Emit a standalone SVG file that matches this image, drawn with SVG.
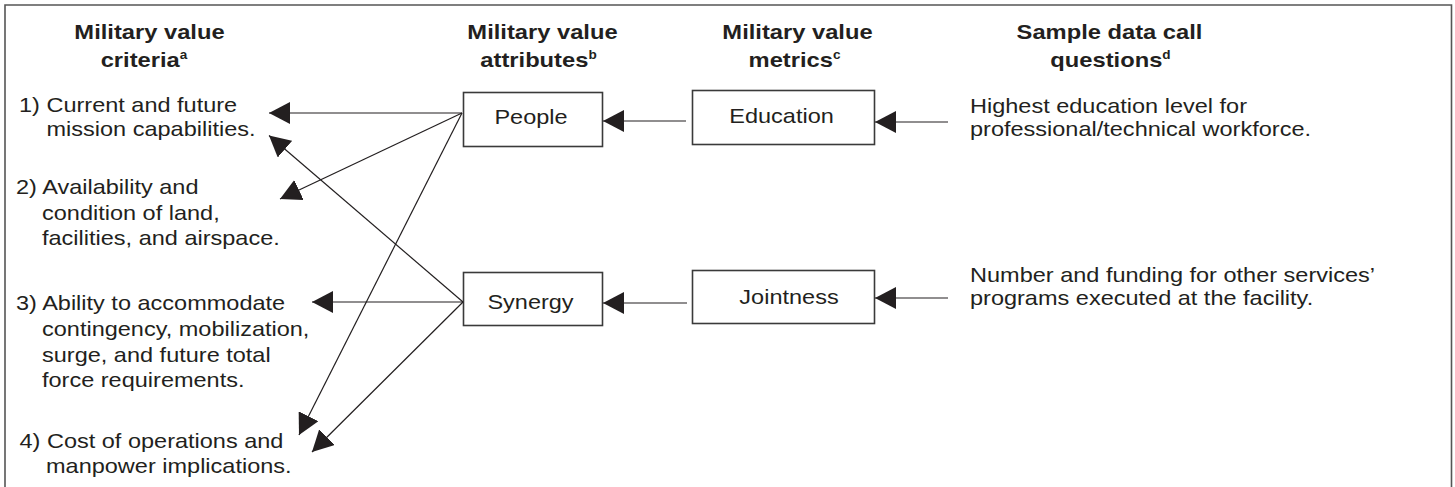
<svg xmlns="http://www.w3.org/2000/svg" width="1455" height="487" viewBox="0 0 1455 487">
<style>
text{font-family:"Liberation Sans",Arial,Helvetica,sans-serif;font-size:21px;fill:#231f20}
.h{font-weight:bold;text-anchor:middle}
.c{text-anchor:middle}
.sup{font-size:12px}
.box{fill:#fff;stroke:#3a3a3a;stroke-width:1.6}
.ln{stroke:#231f20;stroke-width:1.2;fill:none;marker-end:url(#ah)}
</style>
<defs>
<marker id="ah" viewBox="0 0 21 22" refX="21" refY="11" markerWidth="21" markerHeight="22" markerUnits="userSpaceOnUse" orient="auto">
<path d="M0,0 L21,11 L0,22 Z" fill="#231f20"/>
</marker>
</defs>
<rect width="1455" height="487" fill="#fff"/>
<path d="M5,490 V5 H1451.5 V490" fill="none" stroke="#555" stroke-width="1.6"/>

<g id="headers">
<text class="h" transform="translate(149.5,39) scale(1.13,1)">Military value</text>
<text class="h" transform="translate(144,67) scale(1.13,1)">criteria<tspan class="sup" dy="-8">a</tspan></text>
<text class="h" transform="translate(542.5,39) scale(1.13,1)">Military value</text>
<text class="h" transform="translate(538.5,67) scale(1.13,1)">attributes<tspan class="sup" dy="-8">b</tspan></text>
<text class="h" transform="translate(797.5,39) scale(1.13,1)">Military value</text>
<text class="h" transform="translate(794.5,67) scale(1.13,1)">metrics<tspan class="sup" dy="-8">c</tspan></text>
<text class="h" transform="translate(1109.5,39) scale(1.13,1)">Sample data call</text>
<text class="h" transform="translate(1110.5,67) scale(1.13,1)">questions<tspan class="sup" dy="-8">d</tspan></text>
</g>

<g id="criterion1">
<text transform="translate(19,112) scale(1.12,1)">1) Current and future</text>
<text transform="translate(46.5,136) scale(1.12,1)">mission capabilities.</text>
</g>
<g id="criterion2">
<text transform="translate(16,194) scale(1.12,1)">2) Availability and</text>
<text transform="translate(42,220) scale(1.12,1)">condition of land,</text>
<text transform="translate(42,245) scale(1.12,1)">facilities, and airspace.</text>
</g>
<g id="criterion3">
<text transform="translate(16,310) scale(1.12,1)">3) Ability to accommodate</text>
<text transform="translate(42,336) scale(1.12,1)">contingency, mobilization,</text>
<text transform="translate(42,362) scale(1.12,1)">surge, and future total</text>
<text transform="translate(42,387) scale(1.12,1)">force requirements.</text>
</g>
<g id="criterion4">
<text transform="translate(19.5,448) scale(1.12,1)">4) Cost of operations and</text>
<text transform="translate(46,473) scale(1.12,1)">manpower implications.</text>
</g>

<g id="people">
<rect class="box" x="463.5" y="92.5" width="139" height="54"/>
<text class="c" transform="translate(531,124) scale(1.12,1)">People</text>
</g>
<g id="synergy">
<rect class="box" x="463.5" y="272.5" width="139" height="53"/>
<text class="c" transform="translate(530.5,309) scale(1.12,1)">Synergy</text>
</g>
<g id="education">
<rect class="box" x="692.5" y="90.5" width="182" height="54"/>
<text class="c" transform="translate(781.5,123) scale(1.12,1)">Education</text>
</g>
<g id="jointness">
<rect class="box" x="692.5" y="270.5" width="182" height="53"/>
<text class="c" transform="translate(789,304) scale(1.12,1)">Jointness</text>
</g>

<g id="question1">
<text transform="translate(970,113) scale(1.12,1)">Highest education level for</text>
<text transform="translate(970,136) scale(1.12,1)">professional/technical workforce.</text>
</g>
<g id="question2">
<text transform="translate(970,282) scale(1.12,1)">Number and funding for other services’</text>
<text transform="translate(970,305) scale(1.12,1)">programs executed at the facility.</text>
</g>

<g id="connectors">
<line class="ln" x1="948" y1="122" x2="875" y2="122"/>
<line class="ln" x1="948" y1="298" x2="875" y2="298"/>
<line class="ln" x1="686" y1="121" x2="603" y2="121"/>
<line class="ln" x1="687" y1="303" x2="603" y2="303"/>
<line class="ln" x1="462" y1="113" x2="269" y2="113"/>
<line class="ln" x1="462" y1="113" x2="280" y2="199"/>
<line class="ln" x1="462" y1="113" x2="299" y2="435"/>
<line class="ln" x1="463" y1="302" x2="269" y2="135.5"/>
<line class="ln" x1="463" y1="302" x2="312" y2="302"/>
<line class="ln" x1="463" y1="302" x2="312" y2="452"/>
</g>
</svg>
